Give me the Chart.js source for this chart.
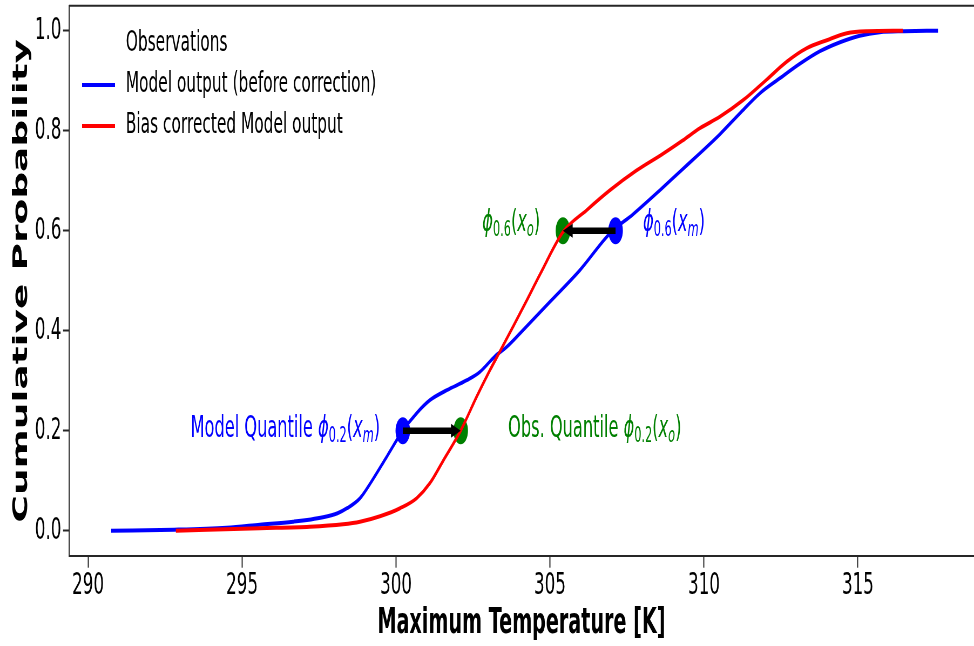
<!DOCTYPE html>
<html>
<head>
<meta charset="utf-8">
<script src="https://cdn.jsdelivr.net/npm/chart.js@4.4.0/dist/chart.umd.min.js"></script>
<style>
  html, body { margin: 0; padding: 0; background: #fff; overflow: hidden; }
  #wrap { height: 646px; transform-origin: 0 0; }
</style>
</head>
<body>
<div id="wrap"><canvas id="grafico"></canvas></div>
<script>
// Curva do modelo (antes da correção)
const modeloTemp = [290.75, 292.8, 294.5, 295.58, 296.66, 297.63, 298.1, 298.41, 298.83, 299.22, 299.7, 300.22, 300.67, 301.1, 301.65, 302.3, 302.73, 303.2, 303.6, 304.03, 305.0, 305.97, 306.95, 307.7, 308.57, 309.2, 309.87, 310.52, 311.17, 311.82, 312.47, 313.12, 313.77, 314.42, 315.06, 315.71, 316.5, 317.6];
const modeloProb = [0, 0.002, 0.006, 0.012, 0.018, 0.027, 0.035, 0.045, 0.065, 0.1, 0.148, 0.2, 0.235, 0.261, 0.281, 0.301, 0.318, 0.348, 0.368, 0.395, 0.458, 0.521, 0.595, 0.633, 0.681, 0.717, 0.755, 0.793, 0.835, 0.875, 0.905, 0.934, 0.959, 0.977, 0.99, 0.997, 0.999, 1.0];

// Curva corrigida
const corrigidoTemp = [292.85, 295.58, 297.2, 298.28, 298.83, 299.48, 300.13, 300.67, 301.1, 301.54, 302.1, 302.62, 303.05, 303.38, 303.81, 304.25, 304.68, 305.43, 306.19, 306.95, 307.8, 308.7, 309.3, 309.87, 310.52, 311.27, 312.05, 312.69, 313.34, 313.99, 314.64, 315.29, 316.46];
const corrigidoProb = [0, 0.005, 0.008, 0.013, 0.018, 0.029, 0.045, 0.065, 0.095, 0.141, 0.2, 0.268, 0.321, 0.359, 0.409, 0.461, 0.513, 0.598, 0.641, 0.681, 0.72, 0.755, 0.78, 0.805, 0.828, 0.861, 0.903, 0.938, 0.965, 0.981, 0.995, 0.999, 1.0];

// Quantis destacados
const quantilProb = [0.2, 0.6];
const quantilModelo = [300.22, 307.13];
const quantilObs = [302.1, 305.42];

const legendas = ["Observations", "Model output (before correction)", "Bias corrected Model output"];
const limitesX = [289.38, 318.77];
const limitesY = [-0.05, 1.05];

const AZUL = "#0000ff";
const VERMELHO = "#ff0000";
const VERDE = "#008000";
const FONTE = "DejaVu Sans";

// rótulos com subscritos (estilo mathtext)
const rotulos = [
  { x: 299.48, y: 0.203, alinhar: "right", cor: AZUL,
    partes: [["Model Quantile ", "n"], ["\u03d5", "i"], ["0.2", "s"], ["(", "n"], ["x", "i"], ["m", "si"], [")", "n"]] },
  { x: 303.64, y: 0.203, alinhar: "left", cor: VERDE,
    partes: [["Obs. Quantile ", "n"], ["\u03d5", "i"], ["0.2", "s"], ["(", "n"], ["x", "i"], ["o", "si"], [")", "n"]] },
  { x: 304.68, y: 0.615, alinhar: "right", cor: VERDE,
    partes: [["\u03d5", "i"], ["0.6", "s"], ["(", "n"], ["x", "i"], ["o", "si"], [")", "n"]] },
  { x: 308.02, y: 0.615, alinhar: "left", cor: AZUL,
    partes: [["\u03d5", "i"], ["0.6", "s"], ["(", "n"], ["x", "i"], ["m", "si"], [")", "n"]] }
];

// a figura original foi achatada na horizontal: desenha largo e comprime
const COMPRESSAO = 0.54;
const LARGURA = Math.round(974 / COMPRESSAO);
const wrap = document.getElementById("wrap");
wrap.style.width = LARGURA + "px";
wrap.style.transform = `scaleX(${974 / LARGURA})`;

function pares(xs, ys) {
  return xs.map((x, i) => ({ x, y: ys[i] }));
}

function fonteParte(estilo, tam) {
  const italico = estilo === "i" || estilo === "si";
  const sub = estilo === "s" || estilo === "si";
  return { font: `${italico ? "italic " : ""}${sub ? tam * 0.7 : tam}px "${FONTE}"`, dy: sub ? tam * 0.23 : 0 };
}

function desenharRotulo(ctx, rot, px, py) {
  const tam = 30;
  ctx.textBaseline = "middle";
  ctx.textAlign = "left";
  let total = 0;
  rot.partes.forEach(([t, e]) => {
    ctx.font = fonteParte(e, tam).font;
    total += ctx.measureText(t).width;
  });
  let x = rot.alinhar === "right" ? px - total : px;
  ctx.fillStyle = rot.cor;
  rot.partes.forEach(([t, e]) => {
    const f = fonteParte(e, tam);
    ctx.font = f.font;
    ctx.fillText(t, x, py + f.dy);
    x += ctx.measureText(t).width;
  });
}

const pluginExtras = {
  id: "extras",
  afterDatasetsDraw(chart) {
    const { ctx, chartArea, scales } = chart;
    const sx = scales.x, sy = scales.y;
    ctx.save();

    // borda superior
    ctx.strokeStyle = "#262626";
    ctx.lineWidth = 2;
    ctx.beginPath();
    ctx.moveTo(chartArea.left, chartArea.top);
    ctx.lineTo(chartArea.right, chartArea.top);
    ctx.stroke();

    // setas do quantil do modelo para o observado
    quantilProb.forEach((p, i) => {
      const x0 = sx.getPixelForValue(quantilModelo[i]);
      const x1 = sx.getPixelForValue(quantilObs[i]);
      const y = sy.getPixelForValue(p);
      const dir = Math.sign(x1 - x0);
      const cab = 18;
      ctx.strokeStyle = "#000";
      ctx.fillStyle = "#000";
      ctx.lineWidth = 6.5;
      ctx.beginPath();
      ctx.moveTo(x0, y);
      ctx.lineTo(x1 - dir * cab * 0.8, y);
      ctx.stroke();
      ctx.beginPath();
      ctx.moveTo(x1, y);
      ctx.lineTo(x1 - dir * cab, y - 7);
      ctx.lineTo(x1 - dir * cab, y + 7);
      ctx.closePath();
      ctx.fill();
    });

    rotulos.forEach((r) => {
      desenharRotulo(ctx, r, sx.getPixelForValue(r.x), sy.getPixelForValue(r.y));
    });

    // legenda
    const linhasY = [44, 85, 126];
    ctx.font = `28.5px "${FONTE}"`;
    ctx.textBaseline = "middle";
    ctx.textAlign = "left";
    legendas.forEach((txt, i) => {
      const ds = chart.data.datasets[i];
      ctx.strokeStyle = ds.borderColor;
      ctx.lineWidth = 4;
      ctx.beginPath();
      ctx.moveTo(152, linhasY[i]);
      ctx.lineTo(213, linhasY[i]);
      ctx.stroke();
      ctx.fillStyle = "#000";
      ctx.fillText(txt, 233, linhasY[i]);
    });

    ctx.restore();
  }
};

const grafico = new Chart(document.getElementById("grafico"), {
  type: "line",
  data: {
    datasets: [
      { label: legendas[0], data: [], borderColor: "rgba(0,0,0,0)", pointRadius: 0, order: 3 },
      {
        label: legendas[1],
        data: pares(modeloTemp, modeloProb),
        borderColor: AZUL,
        borderWidth: 4,
        pointRadius: 0,
        cubicInterpolationMode: "monotone",
        order: 2
      },
      {
        label: legendas[2],
        data: pares(corrigidoTemp, corrigidoProb),
        borderColor: VERMELHO,
        borderWidth: 4,
        pointRadius: 0,
        cubicInterpolationMode: "monotone",
        order: 1
      },
      {
        type: "scatter",
        data: pares(quantilModelo, quantilProb),
        backgroundColor: AZUL,
        borderWidth: 0,
        pointRadius: 13.5,
        order: 5
      },
      {
        type: "scatter",
        data: pares(quantilObs, quantilProb),
        backgroundColor: VERDE,
        borderWidth: 0,
        pointRadius: 13.5,
        order: 5
      }
    ]
  },
  options: {
    responsive: true,
    maintainAspectRatio: false,
    animation: false,
    events: [],
    layout: { autoPadding: false, padding: { top: 5.7, right: 0, left: 0, bottom: 0 } },
    plugins: {
      legend: { display: false },
      tooltip: { enabled: false }
    },
    scales: {
      x: {
        type: "linear",
        min: limitesX[0],
        max: limitesX[1],
        afterFit: (s) => { s.height = 90.3; s.paddingLeft = 0; s.paddingRight = 0; },
        border: { display: true, color: "#262626", width: 2 },
        grid: { drawOnChartArea: false, drawTicks: true, tickLength: 12, tickColor: "#262626", tickWidth: 2 },
        ticks: {
          stepSize: 5,
          includeBounds: false,
          padding: 0,
          color: "#000",
          maxRotation: 0,
          font: { family: FONTE, size: 31 }
        },
        title: {
          display: true,
          text: "Maximum Temperature [K]",
          color: "#000",
          font: { family: FONTE, size: 35.5, weight: "bold", lineHeight: 1 },
          padding: { top: 0, bottom: 4.5 }
        }
      },
      y: {
        type: "linear",
        min: limitesY[0],
        max: limitesY[1],
        afterFit: (s) => { s.width = 127.8; s.paddingTop = 0; s.paddingBottom = 0; },
        border: { display: true, color: "#262626", width: 2 },
        grid: { drawOnChartArea: false, drawTicks: true, tickLength: 11, tickColor: "#262626", tickWidth: 2 },
        ticks: {
          stepSize: 0.2,
          includeBounds: false,
          padding: 3,
          color: "#000",
          font: { family: FONTE, size: 31 },
          callback: (v) => v.toFixed(1)
        },
        title: {
          display: true,
          text: "Cumulative Probability",
          color: "#000",
          font: { family: FONTE, size: 37.5, weight: "bold", lineHeight: 1 },
          padding: { top: 22, bottom: 0 }
        }
      }
    }
  },
  plugins: [pluginExtras]
});
</script>
</body>
</html>
